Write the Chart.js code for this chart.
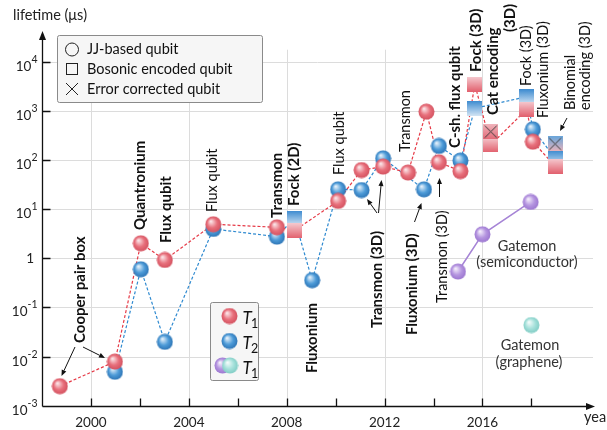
<!DOCTYPE html>
<html>
<head>
<meta charset="utf-8">
<script src="https://cdn.jsdelivr.net/npm/chart.js@4.4.1/dist/chart.umd.min.js"></script>
<style>
  html, body { margin: 0; padding: 0; background: #fff; }
  #wrap { width: 607px; height: 430px; }
</style>
</head>
<body>
<div id="wrap"><canvas id="chart" width="607" height="430"></canvas></div>
<script>
'use strict'

// T1 (red), in the order the dashed line joins them
const t1Years = [1998.73, 2000.98, 2002.04, 2003.02, 2005.0, 2007.6, 2008.31, 2010.1, 2011.06, 2011.94, 2012.96, 2013.71, 2014.22, 2015.1, 2015.69, 2016.34, 2017.81, 2018.06, 2018.97]
const t1Values = [0.0025, 0.0079, 2.03, 0.93, 4.95, 4.3, 3.66, 14.8, 63, 74, 56, 973, 91, 60, 3500, 205, 1090, 238, 75]
const t1Kinds = ['jj', 'jj', 'jj', 'jj', 'jj', 'jj', 'bosonic', 'jj', 'jj', 'jj', 'jj', 'jj', 'jj', 'jj', 'bosonic', 'bosonic', 'bosonic', 'jj', 'bosonic']

// T2 (blue)
const t2Years = [2000.98, 2002.04, 2003.02, 2005.0, 2007.6, 2008.31, 2009.04, 2010.1, 2011.06, 2011.94, 2013.61, 2014.22, 2015.1, 2015.69, 2017.81, 2018.06, 2018.97]
const t2Values = [0.0049, 0.60, 0.020, 3.97, 2.77, 6.6, 0.36, 25.5, 24.7, 109, 25.5, 195, 98, 1140, 1960, 425, 111]
const t2Kinds = ['jj', 'jj', 'jj', 'jj', 'jj', 'bosonic', 'jj', 'jj', 'jj', 'jj', 'jj', 'jj', 'jj', 'bosonic', 'bosonic', 'jj', 'bosonic']

// error corrected qubits and the uncorrected value below each
const corrYears = [2016.34, 2018.97]
const corrValues = [380, 214]
const corrBaseValues = [205, 75]
const corrColors = ['red', 'mixed']

// gatemons (T1)
const semiYears = [2015.0, 2016.0, 2017.97]
const semiValues = [0.54, 3.1, 14.1]
const grapheneYears = [2018.0]
const grapheneValues = [0.044]

// axes
const gridYears = [2000, 2004, 2008, 2012, 2016]
const tickYears = [2000, 2002, 2004, 2006, 2008, 2010, 2012, 2014, 2016, 2018]
const yearLabels = ['2000', '2004', '2008', '2012', '2016']
const decades = [-3, -2, -1, 0, 1, 2, 3, 4]

const FONT = 'Lato, "Open Sans", sans-serif'
const NORMAL = '14.5px ' + FONT
const BOLD = 'bold 15px ' + FONT

const zip = (xs, ys) => xs.map((x, i) => ({ x: x, y: ys[i] }))

function sphere (light, main, dark) {
    const c = document.createElement('canvas')
    c.width = c.height = 17
    const g = c.getContext('2d')
    const grad = g.createRadialGradient(6, 5.5, 0.5, 8.5, 8.5, 8.5)
    grad.addColorStop(0, light)
    grad.addColorStop(0.55, main)
    grad.addColorStop(1, dark)
    g.fillStyle = grad
    g.beginPath()
    g.arc(8.5, 8.5, 8, 0, Math.PI * 2)
    g.fill()
    return c
}

function square (top, bottom, cross) {
    const c = document.createElement('canvas')
    c.width = c.height = 15
    const g = c.getContext('2d')
    const grad = g.createLinearGradient(0, 0, 0, 15)
    grad.addColorStop(0, top)
    grad.addColorStop(1, bottom)
    g.fillStyle = grad
    g.fillRect(0, 0, 15, 15)
    if (cross) {
        g.strokeStyle = '#3a3a3a'
        g.lineWidth = 1
        g.beginPath()
        g.moveTo(1.5, 1.5); g.lineTo(13.5, 13.5)
        g.moveTo(13.5, 1.5); g.lineTo(1.5, 13.5)
        g.stroke()
    }
    return c
}

const spheres = {
    red: sphere('#fbe4e7', '#e8707c', '#d24f5d'),
    blue: sphere('#e4f0fa', '#4d9bd8', '#2b72b3'),
    purple: sphere('#f3ecfb', '#b595e0', '#9a74cf'),
    cyan: sphere('#f2fbfa', '#a6e1db', '#7ecbc3')
}
const squares = {
    red: square('#f5c9cf', '#e2606d'),
    blue: square('#3d8bd0', '#d2e4f4')
}
const crossSquares = {
    red: square('#f0b3bb', '#e36a77', true),
    mixed: square('#6aa6da', '#eab3bb', true)
}

const styleFor = (kind, color) => kind === 'bosonic' ? squares[color] : spheres[color]

// rotated labels: x, bottom y, text, bold
const vLabels = [
    [80, 343, 'Cooper pair box', true],
    [140, 230, 'Quantronium', true],
    [166, 243, 'Flux qubit', true],
    [212, 212, 'Flux qubit', false],
    [277, 218, 'Transmon', true],
    [294, 206, 'Fock (2D)', true],
    [339, 175, 'Flux qubit', false],
    [405, 152, 'Transmon', false],
    [455, 148, 'C-sh. flux qubit', true],
    [476, 72, 'Fock (3D)', true],
    [493, 115, 'Cat encoding', true],
    [510, 32, '(3D)', true],
    [526, 86, 'Fock (3D)', false],
    [543, 118, 'Fluxonium (3D)', false],
    [570, 110, 'Binomial', false],
    [585, 110, 'encoding (3D)', false],
    [377, 328, 'Transmon (3D)', true],
    [412, 335, 'Fluxonium (3D)', true],
    [442, 303, 'Transmon (3D)', false],
    [312, 373, 'Fluxonium', true]
]
const hLabels = [
    [527, 246, 'Gatemon'],
    [527, 262, '(semiconductor)'],
    [530, 345, 'Gatemon'],
    [529, 362, '(graphene)']
]
const arrows = [
    [75, 347, 61.5, 376],
    [83, 347, 105, 358],
    [377, 213, 367, 199],
    [378.5, 213, 381.5, 180],
    [414.5, 222, 421.5, 203],
    [439.5, 197, 439.5, 178],
    [567, 118, 560, 131]
]

function arrow (ctx, x1, y1, x2, y2, len, half) {
    const ang = Math.atan2(y2 - y1, x2 - x1)
    const bx = x2 - len * Math.cos(ang), by = y2 - len * Math.sin(ang)
    ctx.beginPath()
    ctx.moveTo(x1, y1)
    ctx.lineTo(bx, by)
    ctx.stroke()
    ctx.beginPath()
    ctx.moveTo(x2, y2)
    ctx.lineTo(bx + half * Math.sin(ang), by - half * Math.cos(ang))
    ctx.lineTo(bx - half * Math.sin(ang), by + half * Math.cos(ang))
    ctx.closePath()
    ctx.fill()
}

const frame = {
    id: 'frame',
    beforeDatasetsDraw (chart) {
        const { ctx, chartArea: a } = chart
        const xs = chart.scales.x, ys = chart.scales.y
        ctx.save()
        ctx.lineWidth = 1
        ctx.strokeStyle = '#dcdcdc'
        ctx.beginPath()
        gridYears.forEach(yr => {
            const x = Math.round(xs.getPixelForValue(yr)) + 0.5
            ctx.moveTo(x, a.bottom)
            ctx.lineTo(x, ys.getPixelForValue(Math.pow(10, 4.25)))
        })
        decades.slice(1).forEach(d => {
            const y = Math.round(ys.getPixelForValue(Math.pow(10, d))) + 0.5
            ctx.moveTo(a.left, y)
            ctx.lineTo(a.right - 2, y)
        })
        ctx.stroke()

        ctx.strokeStyle = '#111'
        ctx.fillStyle = '#111'
        ctx.lineWidth = 1.3
        const bottom = Math.round(a.bottom) + 0.5
        const left = Math.round(a.left) + 0.5
        ctx.beginPath()
        tickYears.forEach(yr => {
            const x = Math.round(xs.getPixelForValue(yr)) + 0.5
            ctx.moveTo(x, bottom)
            ctx.lineTo(x, bottom - 8)
        })
        decades.slice(1).forEach(d => {
            const y = Math.round(ys.getPixelForValue(Math.pow(10, d))) + 0.5
            ctx.moveTo(left, y)
            ctx.lineTo(left + 8, y)
        })
        ctx.stroke()
        arrow(ctx, left, bottom, a.right, bottom, 9, 3.5)
        arrow(ctx, left, bottom, left, a.top, 9, 3.5)

        // tick labels
        ctx.fillStyle = '#222'
        ctx.font = '13.5px ' + FONT
        ctx.textAlign = 'center'
        ctx.textBaseline = 'alphabetic'
        gridYears.forEach((yr, i) => ctx.fillText(yearLabels[i], xs.getPixelForValue(yr), 427))
        decades.forEach(d => {
            const y = ys.getPixelForValue(Math.pow(10, d))
            ctx.textAlign = 'right'
            if (d === 0) {
                ctx.font = '13.5px ' + FONT
                ctx.fillText('1', 34, y + 5)
                return
            }
            const sup = d === 1 ? '1' : (d < 0 ? '-' + (-d) : String(d))
            ctx.font = '10.5px ' + FONT
            const w = ctx.measureText(sup).width
            ctx.fillText(sup, 37.5, y + 1)
            ctx.font = '13.5px ' + FONT
            ctx.fillText('10', 37.5 - w, y + 9)
        })
        ctx.textAlign = 'left'
        ctx.font = NORMAL
        ctx.fillText('lifetime (\u03bcs)', 13, 20)
        ctx.fillText('year', 584, 422)
        ctx.restore()
    },
    afterDatasetsDraw (chart) {
        const { ctx } = chart
        ctx.save()
        ctx.fillStyle = '#111'
        ctx.textBaseline = 'middle'
        ctx.textAlign = 'left'
        vLabels.forEach(([x, y, text, bold]) => {
            ctx.save()
            ctx.translate(x, y)
            ctx.rotate(-Math.PI / 2)
            ctx.font = bold ? BOLD : NORMAL
            ctx.fillText(text, 0, 0)
            ctx.restore()
        })
        ctx.fillStyle = '#333'
        ctx.textAlign = 'center'
        ctx.font = NORMAL
        hLabels.forEach(([x, y, text]) => ctx.fillText(text, x, y))

        ctx.strokeStyle = '#111'
        ctx.fillStyle = '#111'
        ctx.lineWidth = 1
        arrows.forEach(([x1, y1, x2, y2]) => arrow(ctx, x1, y1, x2, y2, 6, 2.5))

        // legend: qubit kinds
        ctx.fillStyle = '#f6f6f6'
        ctx.strokeStyle = '#8a8a8a'
        ctx.beginPath()
        ctx.roundRect(57.5, 35.5, 205, 67, 2)
        ctx.fill()
        ctx.stroke()
        ctx.strokeStyle = '#222'
        ctx.lineWidth = 1
        ctx.beginPath()
        ctx.arc(72, 49.5, 6.5, 0, Math.PI * 2)
        ctx.stroke()
        ctx.strokeRect(66.5, 63.5, 11, 11)
        ctx.beginPath()
        ctx.moveTo(66, 83); ctx.lineTo(78, 95)
        ctx.moveTo(78, 83); ctx.lineTo(66, 95)
        ctx.stroke()
        ctx.fillStyle = '#111'
        ctx.textAlign = 'left'
        ctx.textBaseline = 'alphabetic'
        ctx.font = NORMAL
        ctx.fillText('JJ-based qubit', 87, 54)
        ctx.fillText('Bosonic encoded qubit', 87, 74)
        ctx.fillText('Error corrected qubit', 87, 94)

        // legend: T1 / T2
        ctx.fillStyle = '#f6f6f6'
        ctx.strokeStyle = '#8a8a8a'
        ctx.beginPath()
        ctx.roundRect(210.5, 302.5, 48, 78, 2)
        ctx.fill()
        ctx.stroke()
        const img = (c, x, y) => ctx.drawImage(c, x - c.width / 2, y - c.height / 2)
        img(spheres.red, 229.5, 316)
        img(spheres.blue, 229.5, 341)
        img(spheres.purple, 222.5, 365.5)
        img(spheres.cyan, 230, 365.5)
        ctx.fillStyle = '#111'
        const tLabel = (sub, y) => {
            ctx.font = 'italic 17px ' + FONT
            ctx.fillText('T', 242.5, y)
            ctx.font = '12.5px ' + FONT
            ctx.fillText(sub, 251, y + 4)
        }
        tLabel('1', 323.5)
        tLabel('2', 348.5)
        tLabel('1', 373.5)
        ctx.restore()
    }
}

const lineBase = { showLine: true, pointRadius: 0, borderWidth: 1.2, borderDash: [3, 2], fill: false }

const datasets = [
    { data: zip(corrYears, corrValues), pointStyle: corrColors.map(c => crossSquares[c]), pointRadius: 8, order: 0 },
    { data: zip(semiYears, semiValues), showLine: true, borderColor: '#a684d6', borderWidth: 1.5, pointStyle: spheres.purple, pointRadius: 8, order: 0 },
    { data: zip(grapheneYears, grapheneValues), pointStyle: spheres.cyan, pointRadius: 8, order: 0 },
    { data: zip(t1Years, t1Values), pointStyle: t1Kinds.map(k => styleFor(k, 'red')), pointRadius: 8, order: 1 },
    { data: zip(t2Years, t2Values), pointStyle: t2Kinds.map(k => styleFor(k, 'blue')), pointRadius: 8, order: 2 },
    Object.assign({ data: zip(t1Years, t1Values), borderColor: '#e63946', order: 4 }, lineBase),
    Object.assign({ data: zip(t2Years, t2Values), borderColor: '#2f8ad0', order: 5 }, lineBase)
]
corrYears.forEach((yr, i) => {
    datasets.push(Object.assign({}, lineBase, {
        data: [{ x: yr, y: corrValues[i] }, { x: yr, y: corrBaseValues[i] }],
        borderColor: '#8a8a8a',
        borderDash: [1, 1.5],
        order: 3
    }))
})

new Chart(document.getElementById('chart'), {
    type: 'scatter',
    data: { datasets: datasets },
    options: {
        responsive: false,
        animation: false,
        devicePixelRatio: 1,
        events: [],
        layout: { padding: { left: 42, top: 31, right: 12, bottom: 24.3 } },
        plugins: { legend: { display: false }, tooltip: { enabled: false } },
        scales: {
            x: { type: 'linear', display: false, min: 1998, max: 2020.6 },
            y: { type: 'logarithmic', display: false, min: 0.001, max: Math.pow(10, 4.631) }
        }
    },
    plugins: [frame]
})
</script>
</body>
</html>
